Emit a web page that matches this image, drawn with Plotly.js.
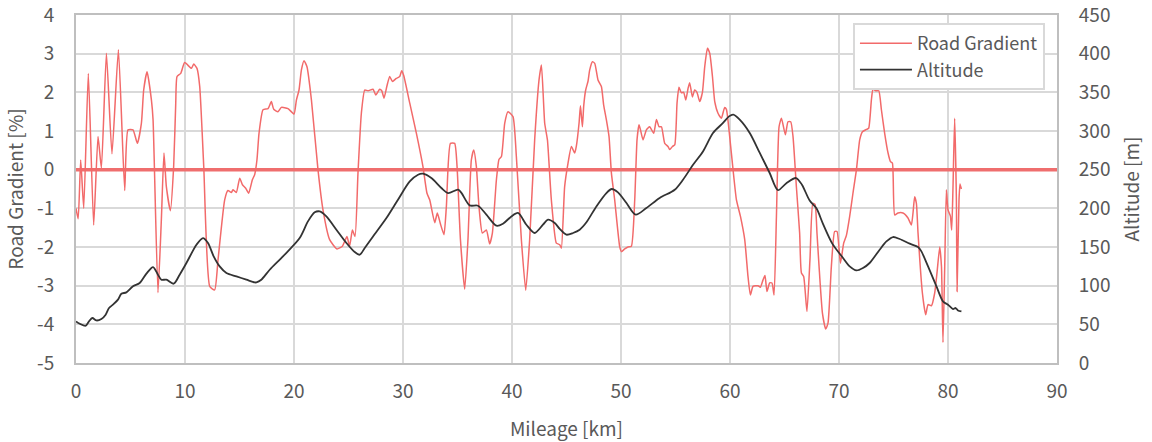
<!DOCTYPE html>
<html>
<head>
<meta charset="utf-8">
<script src="https://cdn.plot.ly/plotly-3.0.1.min.js"></script>
<style>
html,body{margin:0;padding:0;background:#fff;}
#chart{width:1152px;height:442px;}
</style>
</head>
<body>
<div id="chart"></div>
<script>
// Road gradient [%] vs mileage [km]
const gradKm = [0,0.2,0.43,0.71,1.13,1.62,2.02,2.33,2.79,3.30,3.89,4.47,4.77,5.23,5.63,6.0,6.21,6.52,6.92,7.07,7.52,7.83,8.07,8.29,8.66,8.96,9.15,9.27,9.61,9.97,10.59,10.80,11.1,11.35,11.72,12.27,12.72,13.03,13.64,13.94,14.26,14.4,14.71,15.02,15.27,15.57,15.84,16.18,16.39,16.6,16.79,17.16,17.62,17.92,18.14,18.53,18.84,19.45,20.0,20.22,20.46,20.68,20.92,21.19,21.6,22.2,22.66,23.27,23.94,24.44,24.86,25.1,25.36,25.6,25.87,26.18,26.49,26.79,27.25,27.5,27.86,28.05,28.26,28.53,28.78,29.03,29.39,29.7,29.88,30.06,30.62,31.23,31.83,32.2,32.45,32.91,33.15,33.43,33.76,33.98,34.35,34.74,34.96,35.27,35.66,35.96,36.27,36.49,36.73,36.97,37.28,37.65,37.95,38.2,38.57,38.81,39.03,39.33,39.63,40.09,40.40,40.86,41.26,41.62,42.08,42.48,42.70,43.0,43.25,43.61,44.07,44.38,44.53,44.83,45.14,45.45,45.75,45.9,46.15,46.28,46.46,46.58,46.76,46.97,47.13,47.38,47.59,47.89,48.2,48.41,48.66,48.9,49.12,49.42,49.88,50.04,50.34,50.64,50.95,51.26,51.47,51.65,51.78,52.02,52.33,52.63,53.0,53.25,53.49,53.71,54.01,54.31,54.47,54.72,54.93,55.14,55.32,55.54,55.75,55.94,56.15,56.3,56.55,56.76,56.97,57.22,57.47,57.68,57.93,58.14,58.39,58.6,58.9,59.21,59.51,59.67,59.97,60.28,60.59,60.96,61.35,61.65,61.87,62.11,62.57,62.79,63.03,63.21,63.39,63.64,63.85,64.04,64.26,64.5,64.72,65.08,65.32,65.57,65.78,66.09,66.39,66.55,66.76,67.06,67.34,67.6,67.8,67.98,68.17,68.48,68.78,68.99,69.3,69.6,69.82,70.13,70.43,70.68,70.98,71.28,71.6,71.9,72.15,72.51,72.72,72.97,73.12,73.37,73.65,73.89,74.19,74.5,74.72,74.9,75.11,75.41,75.87,76.33,76.64,76.79,76.94,77.1,77.25,77.65,77.95,78.17,78.48,78.78,78.99,79.24,79.4,79.54,79.7,79.85,80.0,80.22,80.34,80.46,80.61,80.77,80.83,81.01,81.1,81.23];
const gradVal = [-1.0,-1.27,0.25,-1.0,2.49,-1.43,0.86,0.04,3.01,0.41,3.10,-0.54,1.03,1.03,0.68,1.2,2.06,2.53,1.80,1.29,-3.18,-1.30,0.43,-0.44,-1.06,0.08,1.72,2.41,2.49,2.77,2.62,2.73,2.62,2.15,0.08,-3.02,-3.11,-2.33,-0.78,-0.54,-0.59,-0.52,-0.59,-0.22,-0.39,-0.48,-0.61,-0.26,-0.13,0.25,0.94,1.55,1.58,1.76,1.56,1.50,1.61,1.58,1.44,1.80,2.06,2.58,2.82,2.66,1.80,0.0,-1.04,-1.81,-2.05,-1.98,-1.73,-1.98,-1.56,-1.73,-0.09,1.46,2.06,2.04,2.08,1.93,2.08,2.04,1.85,2.17,2.41,2.28,2.36,2.41,2.56,2.44,1.72,0.94,0.08,-0.61,-0.78,-1.37,-1.12,-1.4,-1.68,-0.95,0.68,0.68,0.08,-1.81,-3.09,-1.81,0.25,0.51,0.08,-0.95,-1.64,-1.56,-1.92,-1.64,-0.26,0.27,0.34,1.2,1.5,1.37,0.34,-1.81,-3.12,-1.81,0.77,2.32,2.71,1.2,0.77,-0.78,-1.90,-1.94,-2.03,-0.44,0.17,0.6,0.43,0.6,1.2,1.65,1.11,1.65,2.06,2.28,2.58,2.79,2.75,2.32,2.15,1.67,1.29,0.86,-0.09,-0.78,-1.99,-2.12,-2.05,-2.0,-1.98,-0.78,0.77,1.16,1.04,0.77,1.03,1.11,0.94,1.30,1.11,1.11,0.68,0.6,0.52,0.6,0.64,1.72,2.13,1.99,2.0,1.80,2.1,2.25,1.88,2.06,2.0,1.76,2.0,2.66,3.14,3.01,2.41,1.76,1.46,1.33,1.61,1.56,0.86,0.0,-0.78,-1.21,-1.81,-2.76,-3.24,-3.02,-3.0,-3.04,-2.85,-2.74,-3.15,-2.93,-2.93,-3.24,-1.21,1.11,1.33,0.9,1.24,1.24,0.86,-0.44,-1.64,-2.67,-2.76,-3.67,-2.3,-0.87,-0.9,-1.64,-2.5,-3.71,-4.12,-3.97,-2.5,-1.6,-1.6,-2.42,-1.9,-1.7,-1.21,-0.61,0.0,0.77,0.98,1.04,1.07,1.8,2.08,2.04,2.04,1.55,0.94,0.43,0.21,0.17,-1.17,-1.12,-1.12,-1.25,-1.43,-1.12,-0.7,-0.87,-1.64,-3.19,-3.75,-3.49,-3.52,-3.19,-2.67,-2.0,-2.5,-4.47,-2.5,-0.52,-1.04,-1.2,-1.56,-0.44,1.33,-0.78,-3.15,-0.78,-0.37,-0.5];

// Altitude [m] vs mileage [km]
const altKm = [0,0.34,0.89,1.19,1.5,1.87,2.33,2.72,3.03,3.39,3.85,4.16,4.62,5.23,5.84,6.46,7.07,7.52,7.83,8.29,8.96,9.51,10.13,11.05,11.65,12.11,12.63,13.18,13.8,14.72,15.63,16.39,16.55,17.0,17.77,18.99,20.52,21.28,21.9,22.36,22.97,23.89,24.81,25.57,26.03,26.49,27.25,28.48,29.54,30.62,31.38,31.83,32.6,33.52,34.13,35.05,35.36,36.12,36.88,37.65,38.57,39.17,39.94,40.55,41.32,42.08,42.84,43.3,43.92,44.38,44.99,45.6,46.21,46.83,47.74,48.66,49.15,49.72,50.5,51.35,52.33,53.55,54.93,55.69,56.61,57.52,58.44,59.36,59.91,60.3,60.89,61.81,62.73,63.64,64.4,65.17,66.06,66.6,67.31,67.93,68.53,69.4,70.37,70.98,71.6,72.2,72.81,73.73,74.35,74.96,75.57,76.49,77.25,77.56,78.17,78.94,79.54,80.0,80.46,80.7,80.92,81.23];
const altVal = [53.8,50.8,48.2,53.8,58.2,55,56.9,62.5,71.1,75.4,81.9,89.6,91.3,99.1,103.4,115.5,124.1,114.2,107.7,107.7,102.5,114.2,129.3,153,161.6,155.2,137.9,124.9,116.4,112,107.7,104.2,104.2,107.7,120.6,137.9,161.6,183.1,194.8,196,189.6,172.4,155.2,143.5,140,148.7,163.7,187.5,211.2,234.8,243.5,244.8,239.2,226.3,219.8,224.1,220,203.8,203.4,191.8,177.5,180.1,189.6,194,178.8,168.1,178.8,185.3,181,173.3,165.9,168.1,172.4,182,202.5,219.8,225,220.6,206.9,191.8,200.4,213.4,224.1,237,256.4,273.6,297.4,310.4,318.9,321.1,314.6,297.4,271.6,245.7,223.5,232.5,239.2,230.6,210,200,180,154,135.8,124.9,119.7,122.8,129.3,146.5,157.2,162.9,160.3,154.3,150,144.3,124.9,99.1,79.7,75.4,69.8,71.1,68,66.7];

// Zero reference line of the gradient axis
const zeroLineKm = [0, 90];
const zeroLineVal = [0, 0];

const xTicks = [0,10,20,30,40,50,60,70,80,90];
const yTicks = [-5,-4,-3,-2,-1,0,1,2,3,4];
const y2Ticks = [0,50,100,150,200,250,300,350,400,450];

const FONT = '"Noto Sans CJK KR", "Noto Sans", sans-serif';
const TXT = '#595959';
const GRID = '#d9d9d9';
const AXL = '#bfbfbf';
const FS = 19;

const traces = [
  {x: zeroLineKm, y: zeroLineVal, type: 'scatter', mode: 'lines', showlegend: false,
   hoverinfo: 'skip', line: {color: '#ef6e6e', width: 3.5}, yaxis: 'y'},
  {x: gradKm, y: gradVal, name: 'Road Gradient', type: 'scatter', mode: 'lines',
   line: {color: '#f26a6a', width: 1.5, shape: 'spline', smoothing: 0.5}, yaxis: 'y'},
  {x: altKm, y: altVal, name: 'Altitude', type: 'scatter', mode: 'lines',
   line: {color: '#333333', width: 1.8, shape: 'spline', smoothing: 0.8}, yaxis: 'y2'}
];

const layout = {
  width: 1152, height: 442,
  margin: {l: 76, r: 95, t: 15, b: 79},
  paper_bgcolor: '#ffffff', plot_bgcolor: '#ffffff',
  font: {family: FONT, color: TXT, size: FS},
  showlegend: true,
  legend: {x: 0.792, y: 0.977, xanchor: 'left', yanchor: 'top',
    bgcolor: '#ffffff', bordercolor: GRID, borderwidth: 2, itemwidth: 52,
    font: {family: FONT, size: 18, color: TXT}, tracegroupgap: 0},
  xaxis: {range: [0, 90], tickvals: xTicks, ticktext: xTicks.map(String),
    showgrid: true, gridcolor: GRID, gridwidth: 2, zeroline: false,
    showline: true, linecolor: AXL, linewidth: 2, mirror: true,
    ticks: '', ticklabelstandoff: 10, ticklabeloverflow: 'allow',
    tickfont: {family: FONT, size: FS, color: TXT},
    title: {text: 'Mileage [km]', font: {family: FONT, size: FS, color: TXT}, standoff: 21}},
  yaxis: {range: [-5, 4], tickvals: yTicks, ticktext: yTicks.map(v => v < 0 ? '-' + Math.abs(v) : String(v)),
    showgrid: true, gridcolor: GRID, gridwidth: 2, zeroline: false,
    showline: true, linecolor: AXL, linewidth: 2,
    ticks: '', ticklabelstandoff: 16, ticklabeloverflow: 'allow',
    tickfont: {family: FONT, size: FS, color: TXT},
    title: {text: 'Road Gradient [%]', font: {family: FONT, size: FS, color: TXT}, standoff: 8}},
  yaxis2: {range: [0, 450], tickvals: y2Ticks, ticktext: y2Ticks.map(String),
    overlaying: 'y', side: 'right', showgrid: false, zeroline: false,
    showline: true, linecolor: AXL, linewidth: 2,
    ticks: '', ticklabelstandoff: 16, ticklabeloverflow: 'allow',
    tickfont: {family: FONT, size: FS, color: TXT},
    title: {text: 'Altitude [m]', font: {family: FONT, size: FS, color: TXT}, standoff: 16}}
};

Plotly.newPlot('chart', traces, layout, {displayModeBar: false, responsive: false});
</script>
</body>
</html>
